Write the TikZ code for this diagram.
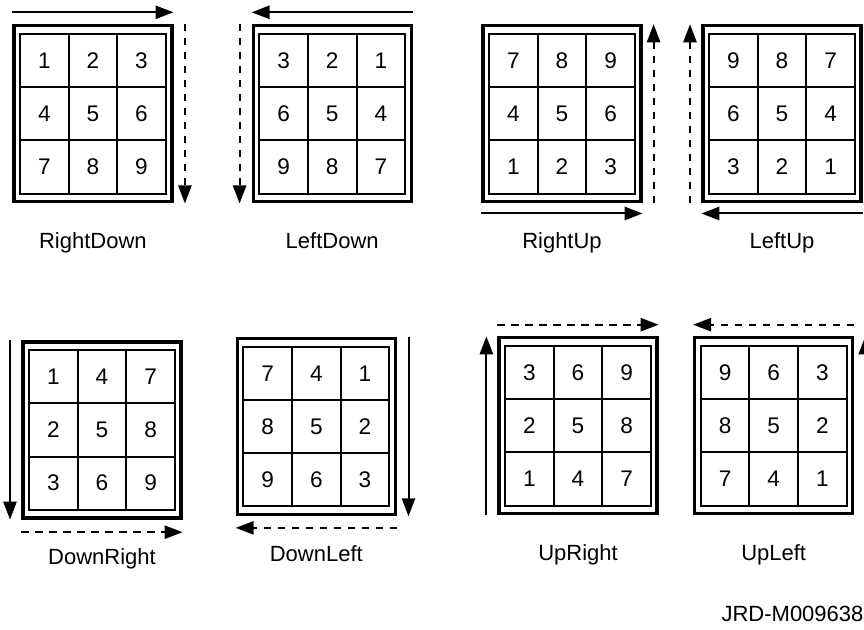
\documentclass[tikz,border=0pt]{standalone}
\usepackage{fontspec}
\setmainfont{Liberation Sans}
\usepackage{tikz}
\usetikzlibrary{positioning,arrows.meta}

\begin{document}
\begin{tikzpicture}[
  x=0.5pt, y=-0.5pt,
  frame/.style={draw, line width=1.6pt, minimum width=79pt, minimum height=88pt, inner sep=0pt},
  cell/.style={draw, line width=1pt, minimum width=24.3pt, minimum height=26.6pt, inner sep=0pt, font=\fontsize{11.3}{13}\selectfont},
  solidarrow/.style={-{Triangle[length=9pt,width=6.6pt]}, line width=1pt},
  dasharrow/.style={solidarrow, dash pattern=on 3.6pt off 3.4pt},
  caption/.style={font=\fontsize{11}{13}\selectfont}
]
\useasboundingbox (0,0) rectangle (864,630);

% frames, cells and captions
\foreach \p/\cx/\cy/\nums/\lab in {
    rd/92.9/113.9/{1,2,3,4,5,6,7,8,9}/RightDown,
    ld/332.2/113.9/{3,2,1,6,5,4,9,8,7}/LeftDown,
    ru/562/113.9/{7,8,9,4,5,6,1,2,3}/RightUp,
    lu/782/113.9/{9,8,7,6,5,4,3,2,1}/LeftUp,
    dr/102/430/{1,4,7,2,5,8,3,6,9}/DownRight,
    dl/316.3/426.7/{7,4,1,8,5,2,9,6,3}/DownLeft,
    ur/578/425.9/{3,6,9,2,5,8,1,4,7}/UpRight,
    ul/773.7/425.9/{9,6,3,8,5,2,7,4,1}/UpLeft} {
  \node[frame] (\p) at (\cx,\cy) {};
  \foreach \n [count=\i from 0] in \nums {
    \pgfmathsetmacro\col{mod(\i,3)-1}
    \pgfmathsetmacro\row{int(\i/3)-1}
    \node[cell] (\p-\i) at (\cx+\col*48.6, \cy+\row*53.2) {\n};
  }
  \node[caption, below=11pt of \p] (\p-lab) {\lab};
}

% scan direction arrows
\draw[solidarrow] ([yshift=6pt]rd.north west) -- ([yshift=6pt]rd.north east);
\draw[dasharrow] ([xshift=5.7pt]rd.north east) -- ([xshift=5.7pt]rd.south east);

\draw[solidarrow] ([yshift=6pt]ld.north east) -- ([yshift=6pt]ld.north west);
\draw[dasharrow] ([xshift=-6pt]ld.north west) -- ([xshift=-6pt]ld.south west);

\draw[solidarrow] ([yshift=-5pt]ru.south west) -- ([yshift=-5pt]ru.south east);
\draw[dasharrow] ([xshift=5.5pt]ru.south east) -- ([xshift=5.5pt]ru.north east);

\draw[solidarrow] ([yshift=-5pt]lu.south east) -- ([yshift=-5pt]lu.south west);
\draw[dasharrow] ([xshift=-5.7pt]lu.south west) -- ([xshift=-5.7pt]lu.north west);

\draw[solidarrow] ([xshift=-5.7pt]dr.north west) -- ([xshift=-5.7pt]dr.south west);
\draw[dasharrow] ([yshift=-6.3pt]dr.south west) -- ([yshift=-6.3pt]dr.south east);

\draw[solidarrow] ([xshift=5.8pt]dl.north east) -- ([xshift=5.8pt]dl.south east);
\draw[dasharrow] ([yshift=-5.8pt]dl.south east) -- ([yshift=-5.8pt]dl.south west);

\draw[solidarrow] ([xshift=-5.5pt]ur.south west) -- ([xshift=-5.5pt]ur.north west);
\draw[dasharrow] ([yshift=5.8pt]ur.north west) -- ([yshift=5.8pt]ur.north east);

\draw[solidarrow] ([xshift=5.5pt]ul.south east) -- ([xshift=5.5pt]ul.north east);
\draw[dasharrow] ([yshift=5.8pt]ul.north east) -- ([yshift=5.8pt]ul.north west);

\node[caption] (ref) at (792.5,614) {JRD-M009638};
\end{tikzpicture}
\end{document}
